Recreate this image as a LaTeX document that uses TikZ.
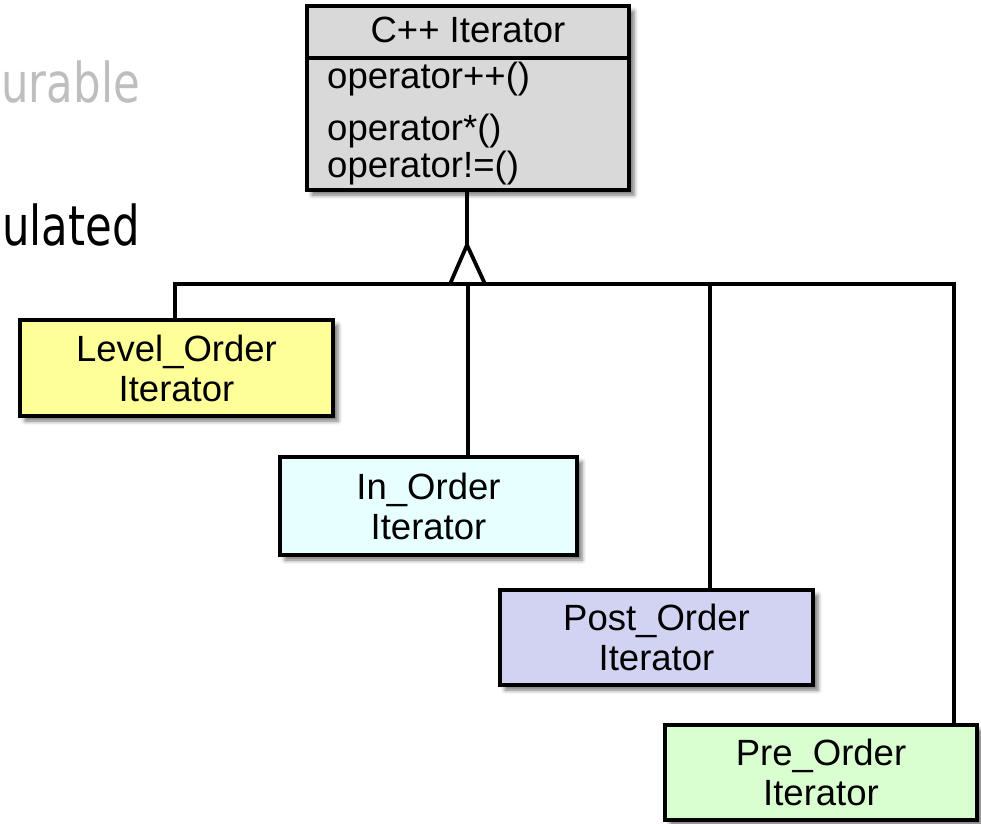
\documentclass[tikz,border=0pt]{standalone}
\usepackage{fontspec}
\setmainfont{Liberation Sans}
\newfontfamily\slidefont{DejaVu Sans}
\usetikzlibrary{shadows.blur}
\definecolor{basegray}{RGB}{217,217,217}
\definecolor{lvlyellow}{RGB}{255,255,153}
\definecolor{inocyan}{RGB}{232,255,255}
\definecolor{postlav}{RGB}{210,210,242}
\definecolor{pregreen}{RGB}{217,255,208}
\definecolor{slidegray}{RGB}{190,190,190}
\tikzset{
  cls/.style={draw=black, line width=3.8pt, rectangle, inner sep=0pt,
    align=center, font=\fontsize{36.5}{40}\selectfont,
    blur shadow={shadow xshift=5pt, shadow yshift=-5pt, shadow blur radius=4pt,
      shadow opacity=55}},
  member/.style={anchor=base west, inner sep=0pt, font=\fontsize{36.5}{40}\selectfont},
  link/.style={line width=3.8pt},
  slidetxt/.style={anchor=base east, inner sep=0pt,
    font=\slidefont\fontsize{55}{60}\selectfont, xscale=0.79}
}
\begin{document}
\begin{tikzpicture}[x=1pt, y=-1pt]
\useasboundingbox (0,0) rectangle (981,823);

% slide text running behind the diagram
\node[slidetxt, text=slidegray] (t1) at (140,102) {urable};
\node[slidetxt, text=black] (t2) at (140,245) {ulated};

% base class
\node[cls, fill=basegray, minimum width=322pt, minimum height=184pt] (base) at (468,98) {};
\coordinate (hl) at (307,58);
\coordinate (hr) at (629,58);
\draw[line width=3.8pt] (hl) -- (hr);
\node[anchor=base, inner sep=0pt, font=\fontsize{36.5}{40}\selectfont] (title) at (468,42) {C++ Iterator};
\node[member] (m1) at (327,88) {operator++()};
\node[member] (m2) at (327,140) {operator*()};
\node[member] (m3) at (327,177) {operator!=()};

% derived classes
\node[cls, fill=lvlyellow, minimum width=313pt, minimum height=96pt] (lvl) at (176.5,368) {Level\_Order\\Iterator};
\node[cls, fill=inocyan, minimum width=297pt, minimum height=98pt] (ino) at (428.5,506) {In\_Order\\Iterator};
\node[cls, fill=postlav, minimum width=313pt, minimum height=95pt] (post) at (656.5,637.5) {Post\_Order\\Iterator};
\node[cls, fill=pregreen, minimum width=312pt, minimum height=95pt] (pre) at (821,772.5) {Pre\_Order\\Iterator};

% generalization: triangle and bus
\coordinate (apex) at (467,245);
\coordinate (tl) at (450,284);
\coordinate (tr) at (485,284);
\coordinate (busl) at (175,284);
\coordinate (busr) at (954,284);
\coordinate (postj) at (710,284);
\coordinate (inoj) at (468,284);

\draw[link] (base.south -| apex) -- (apex);
\draw[link, line join=miter, fill=white] (apex) -- (tr) -- (tl) -- cycle;
\draw[link] (lvl.north -| busl) -- (busl) -- (busr) -- (pre.north -| busr);
\draw[link] (inoj) -- (ino.north -| inoj);
\draw[link] (postj) -- (post.north -| postj);
\end{tikzpicture}
\end{document}
